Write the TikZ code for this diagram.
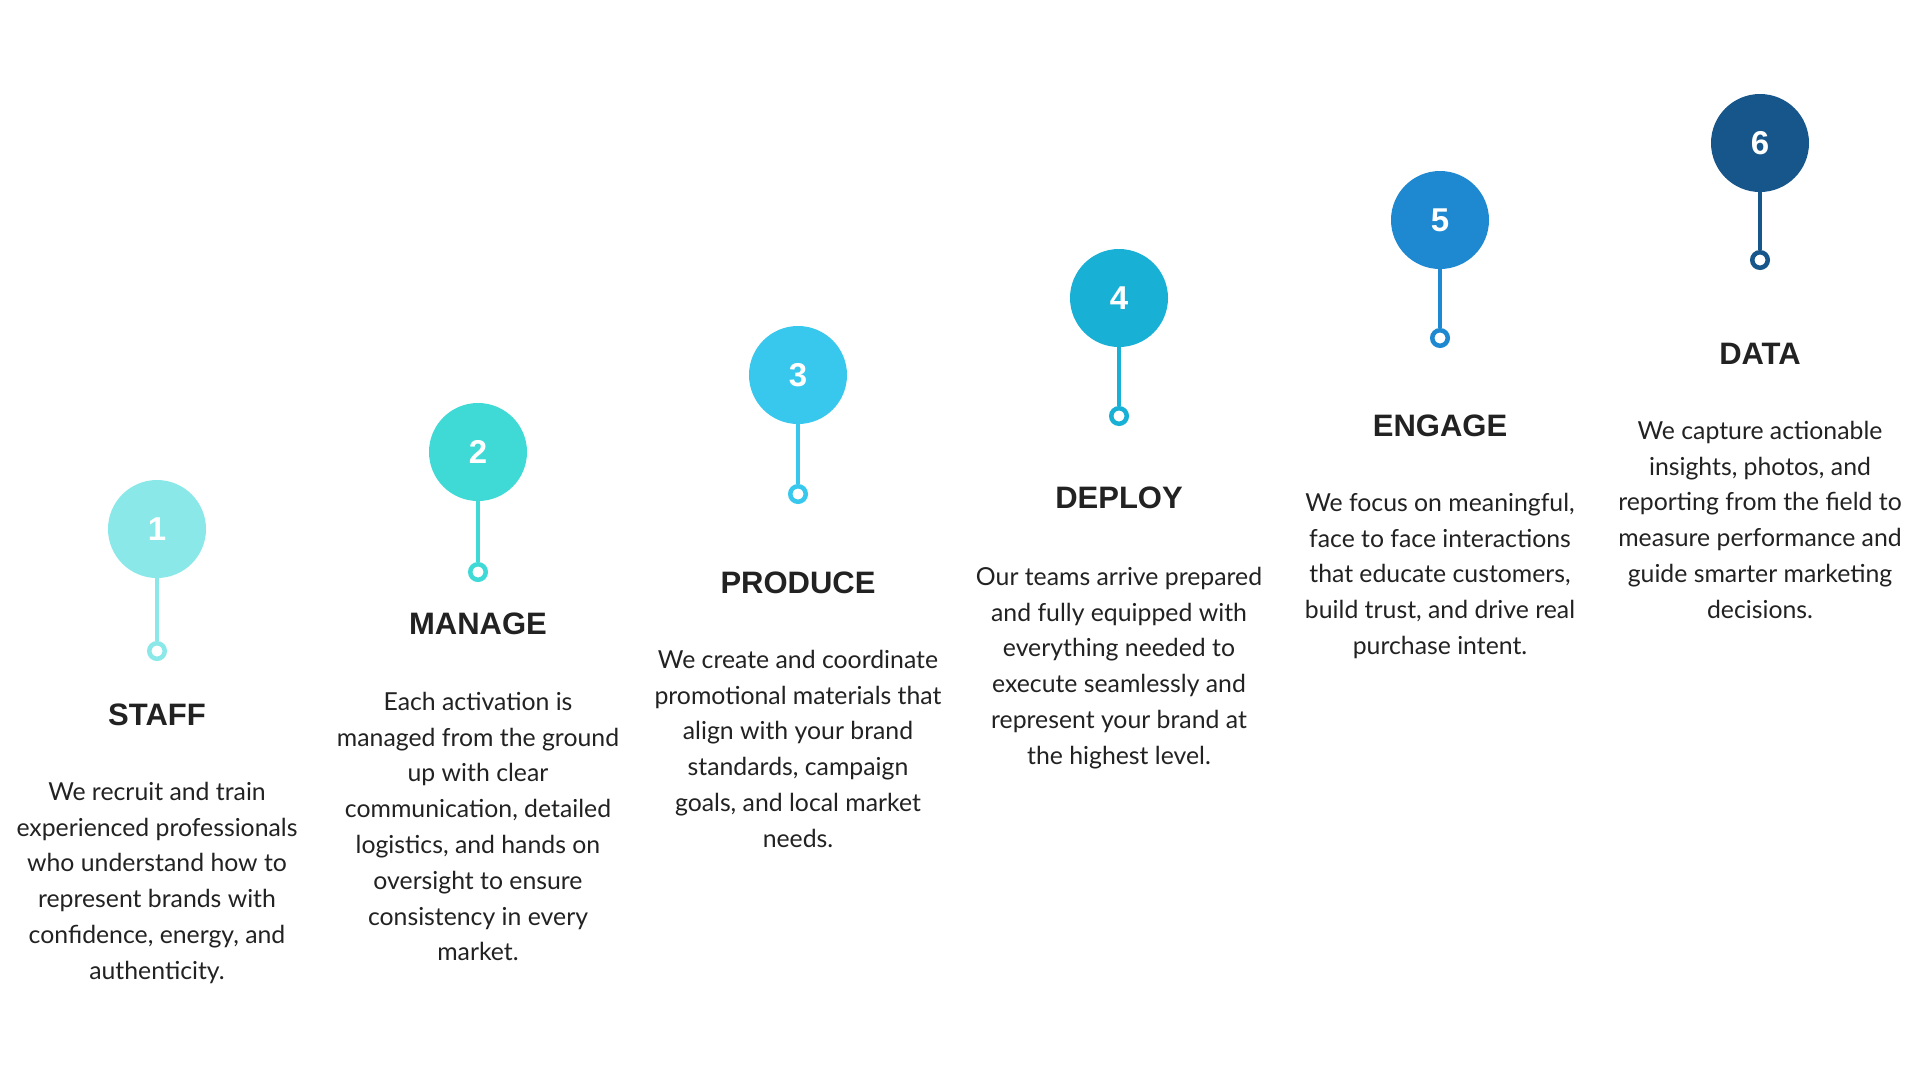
\documentclass[tikz,border=0pt]{standalone}
\usepackage{fontspec}
\setmainfont{Lato}
\newfontfamily\headfont{Liberation Sans}
\definecolor{c1}{HTML}{8BE8E8}
\definecolor{c2}{HTML}{3FD9D6}
\definecolor{c3}{HTML}{38C8EE}
\definecolor{c4}{HTML}{19B0D6}
\definecolor{c5}{HTML}{1E89D0}
\definecolor{c6}{HTML}{17568A}
\definecolor{txt}{HTML}{222222}
\begin{document}
\begin{tikzpicture}[x=1pt,y=-1pt,
  numcirc/.style={circle, minimum size=98pt, inner sep=0pt, text=white,
    font=\headfont\bfseries\fontsize{33}{33}\selectfont},
  stem/.style={line width=4.5pt},
  ringdot/.style={circle, draw, line width=4.5pt, fill=white, minimum size=15.5pt, inner sep=0pt},
  head/.style={font=\headfont\bfseries\fontsize{31}{31}\selectfont, text=txt, inner sep=0pt},
  body/.style={font=\fontsize{24.8}{35.8}\selectfont, text=txt, align=center, anchor=north, inner sep=0pt}]
\useasboundingbox[fill=white] (0,0) rectangle (1920,1080);

% column 1
\node[numcirc, fill=c1] (n1) at (157,529) {1};
\node[ringdot, draw=c1] (r1) at (157,651) {};
\draw[stem, draw=c1] (n1.south) -- (r1.north);
\node[head] (h1) at (157,715) {STAFF};
\node[body] (t1) at (157,775) {\strut We recruit and train\\experienced professionals\\who understand how to\\represent brands with\\confidence, energy, and\\authenticity.};

% column 2
\node[numcirc, fill=c2] (n2) at (478,452) {2};
\node[ringdot, draw=c2] (r2) at (478,572) {};
\draw[stem, draw=c2] (n2.south) -- (r2.north);
\node[head] (h2) at (478,624) {MANAGE};
\node[body] (t2) at (478,685) {\strut Each activation is\\managed from the ground\\up with clear\\communication, detailed\\logistics, and hands on\\oversight to ensure\\consistency in every\\market.};

% column 3
\node[numcirc, fill=c3] (n3) at (798,375) {3};
\node[ringdot, draw=c3] (r3) at (798,494) {};
\draw[stem, draw=c3] (n3.south) -- (r3.north);
\node[head] (h3) at (798,583) {PRODUCE};
\node[body] (t3) at (798,643) {\strut We create and coordinate\\promotional materials that\\align with your brand\\standards, campaign\\goals, and local market\\needs.};

% column 4
\node[numcirc, fill=c4] (n4) at (1119,298) {4};
\node[ringdot, draw=c4] (r4) at (1119,416) {};
\draw[stem, draw=c4] (n4.south) -- (r4.north);
\node[head] (h4) at (1119,498) {DEPLOY};
\node[body] (t4) at (1119,560) {\strut Our teams arrive prepared\\and fully equipped with\\everything needed to\\execute seamlessly and\\represent your brand at\\the highest level.};

% column 5
\node[numcirc, fill=c5] (n5) at (1440,220) {5};
\node[ringdot, draw=c5] (r5) at (1440,338) {};
\draw[stem, draw=c5] (n5.south) -- (r5.north);
\node[head] (h5) at (1440,426) {ENGAGE};
\node[body] (t5) at (1440,486) {\strut We focus on meaningful,\\face to face interactions\\that educate customers,\\build trust, and drive real\\purchase intent.};

% column 6
\node[numcirc, fill=c6] (n6) at (1760,143) {6};
\node[ringdot, draw=c6] (r6) at (1760,260) {};
\draw[stem, draw=c6] (n6.south) -- (r6.north);
\node[head] (h6) at (1760,354) {DATA};
\node[body] (t6) at (1760,414) {\strut We capture actionable\\insights, photos, and\\reporting from the field to\\measure performance and\\guide smarter marketing\\decisions.};
\end{tikzpicture}
\end{document}
